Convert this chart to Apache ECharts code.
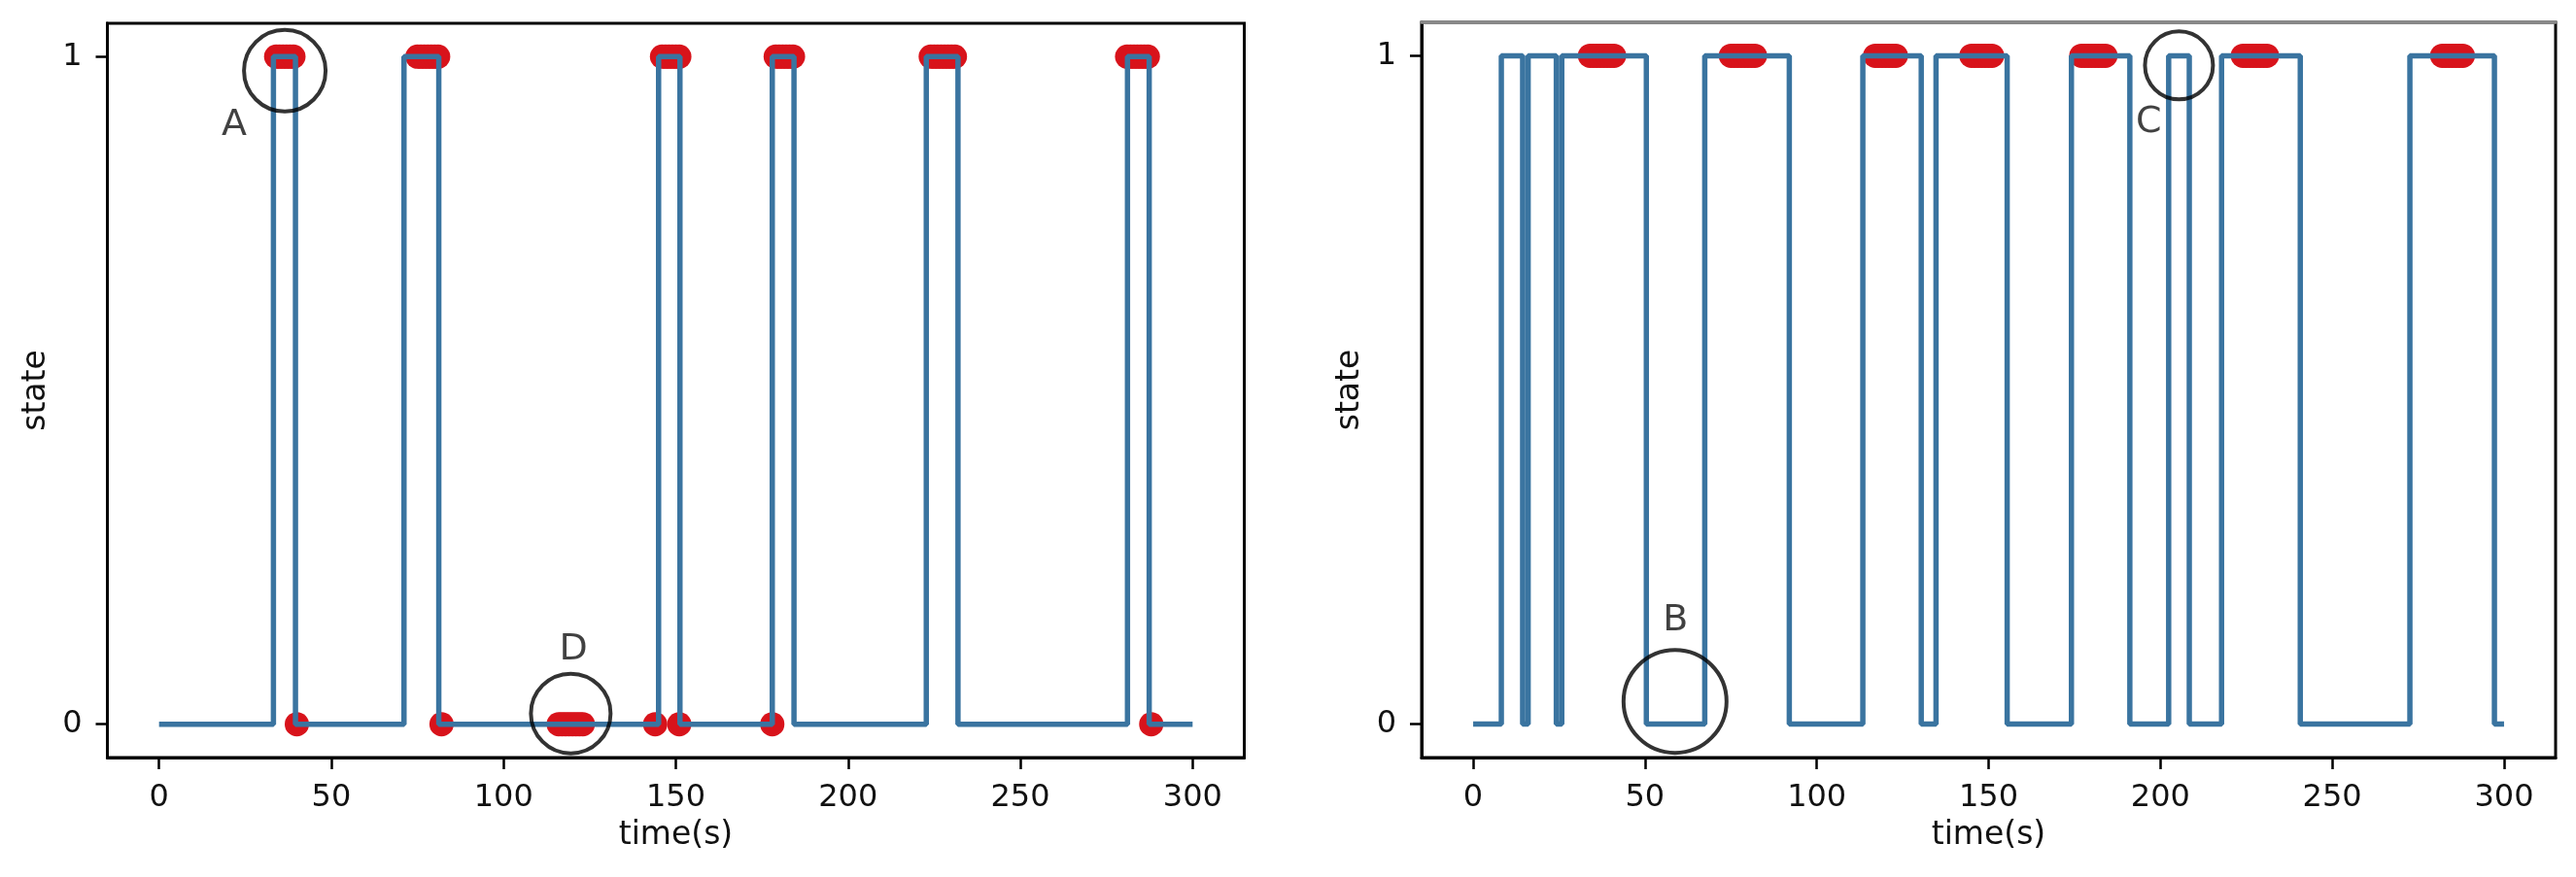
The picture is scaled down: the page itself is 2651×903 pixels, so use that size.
<!DOCTYPE html>
<html><head><meta charset="utf-8">
<script src="https://cdn.jsdelivr.net/npm/echarts@6/dist/echarts.min.js"></script>
<style>html,body{margin:0;padding:0;background:#fff}#c{width:2651px;height:903px}</style>
</head><body><div id="c"></div>
<script>
// ---- data ----
const xTicks = [0, 50, 100, 150, 200, 250, 300];
const yTicks = [0, 1];

// left panel: state change times and state held from each time
const leftStepTimes  = [0, 33.2, 39.6, 71.1, 81.2, 145, 151.2, 178, 184.3, 222.7, 231.9, 281.1, 287.4, 300];
const leftStepStates = [0, 1, 0, 1, 0, 1, 0, 1, 0, 1, 0, 1, 0, 0];
// left panel: red detections at state 1 and state 0
const leftRedHigh = [34, 35, 36, 37, 38, 39, 75, 76, 77, 78, 79, 80, 81, 146, 147, 148, 149, 150, 151,
                     179, 180, 181, 182, 183, 184, 224, 225, 226, 227, 228, 229, 230, 231, 281, 282, 283, 284, 285, 286, 287];
const leftRedLow  = [40, 82, 116, 117, 118, 119, 120, 121, 122, 123, 144, 151, 178, 288];

// right panel
const rightStepTimes  = [0, 8.2, 14.4, 16, 24.2, 25.8, 50.4, 67.4, 92, 113.4, 130.4, 134.7, 155.4, 174.1, 191.1,
                         202.4, 208.4, 217.8, 240.7, 272.6, 297.2, 300];
const rightStepStates = [0, 1, 0, 1, 0, 1, 0, 1, 0, 1, 0, 1, 0, 1, 0, 1, 0, 1, 0, 1, 0, 0];
const rightRedHigh = [34, 35, 36, 37, 38, 39, 40, 41, 75, 76, 77, 78, 79, 80, 81, 82, 117, 118, 119, 120, 121, 122, 123,
                      145, 146, 147, 148, 149, 150, 151, 177, 178, 179, 180, 181, 182, 183, 184,
                      224, 225, 226, 227, 228, 229, 230, 231, 282, 283, 284, 285, 286, 287, 288];

// annotations (data coordinates)
const leftCircleTimes   = [36.5, 119.5];
const leftCircleStates  = [0.979, 0.016];
const leftLetters       = ['A', 'D'];
const leftLetterTimes   = [21.8, 120.3];
const leftLetterStates  = [0.897, 0.111];
const rightCircleTimes  = [58.75, 205.4];
const rightCircleStates = [0.034, 0.9856];
const rightLetters      = ['B', 'C'];
const rightLetterTimes  = [58.9, 196.6];
const rightLetterStates = [0.155, 0.900];

// ---- styles ----
const FONT = 'DejaVu Sans';
const LINE_COLOR = '#3a74a0';
const RED = '#d8131b';
const leftCircleSizes = [84, 82];
const rightCircleSizes = [106, 70];

const zip = (a, b) => a.map((v, i) => [v, b[i]]);
const at = (arr, s) => arr.map(t => [t, s]);

function xAxis(grid) {
  return {
    gridIndex: grid, type: 'value', min: -15, max: 315, position: 'bottom',
    axisLine: {show: true, onZero: false, lineStyle: {color: '#000', width: 3}},
    axisTick: {show: true, length: 12, customValues: xTicks, lineStyle: {color: '#000', width: 2.5}},
    axisLabel: {customValues: xTicks, fontSize: 32, color: '#111', margin: 26, fontFamily: FONT},
    splitLine: {show: false},
    name: 'time(s)', nameLocation: 'middle', nameGap: 64,
    nameTextStyle: {fontSize: 33, color: '#111', fontFamily: FONT}
  };
}
function yAxis(grid) {
  return {
    gridIndex: grid, type: 'value', min: -0.05, max: 1.05,
    axisLine: {show: true, onZero: false, lineStyle: {color: '#000', width: 3}},
    axisTick: {show: true, length: 12, customValues: yTicks, lineStyle: {color: '#000', width: 2.5}},
    axisLabel: {customValues: yTicks, fontSize: 32, color: '#111', margin: 26, fontFamily: FONT},
    splitLine: {show: false},
    name: 'state', nameLocation: 'middle', nameGap: 57,
    nameTextStyle: {fontSize: 33, color: '#111', fontFamily: FONT}
  };
}
function stepSeries(xi, times, states) {
  return {type: 'line', xAxisIndex: xi, yAxisIndex: xi, step: 'end', data: zip(times, states),
    showSymbol: false, symbol: 'none', z: 5, animation: false,
    lineStyle: {color: LINE_COLOR, width: 5.5}};
}
function redSeries(xi, data) {
  return {type: 'scatter', xAxisIndex: xi, yAxisIndex: xi, data: data, symbolSize: 25, z: 3,
    animation: false, itemStyle: {color: RED, opacity: 1}};
}
function circleSeries(xi, times, states, sizes) {
  return {type: 'scatter', xAxisIndex: xi, yAxisIndex: xi, z: 6, animation: false,
    data: zip(times, states).map((p, i) => ({value: p, symbolSize: sizes[i]})),
    itemStyle: {color: 'rgba(0,0,0,0)', borderColor: '#000', borderWidth: 4}};
}
function letterSeries(xi, times, states, letters) {
  return {type: 'scatter', xAxisIndex: xi, yAxisIndex: xi, z: 6, animation: false, symbolSize: 1,
    itemStyle: {color: 'rgba(0,0,0,0)'},
    data: zip(times, states).map((p, i) => ({value: p, name: letters[i]})),
    label: {show: true, position: 'inside', formatter: p => p.name, fontSize: 38, color: '#111', fontFamily: FONT}};
}

const chart = echarts.init(document.getElementById('c'), null, {renderer: 'canvas'});
const topAxis = {gridIndex: 1, type: 'value', min: -15, max: 315, position: 'top',
  axisLine: {show: true, onZero: false, lineStyle: {color: '#8a8a8a', width: 3.5}},
  axisTick: {show: false}, axisLabel: {show: false}, splitLine: {show: false}};
chart.setOption({
  backgroundColor: '#fff',
  animation: false,
  grid: [
    {left: 110.5, top: 24, width: 1170, height: 756, show: true, borderColor: '#000', borderWidth: 3, containLabel: false},
    {left: 1463, top: 23, width: 1167, height: 757, show: true, borderColor: '#000', borderWidth: 3, containLabel: false}
  ],
  xAxis: [xAxis(0), xAxis(1), topAxis],
  yAxis: [yAxis(0), yAxis(1)],
  series: [
    redSeries(0, at(leftRedHigh, 1).concat(at(leftRedLow, 0))),
    stepSeries(0, leftStepTimes, leftStepStates),
    circleSeries(0, leftCircleTimes, leftCircleStates, leftCircleSizes),
    letterSeries(0, leftLetterTimes, leftLetterStates, leftLetters),
    redSeries(1, at(rightRedHigh, 1)),
    stepSeries(1, rightStepTimes, rightStepStates),
    circleSeries(1, rightCircleTimes, rightCircleStates, rightCircleSizes),
    letterSeries(1, rightLetterTimes, rightLetterStates, rightLetters)
  ]
});
</script></body></html>
